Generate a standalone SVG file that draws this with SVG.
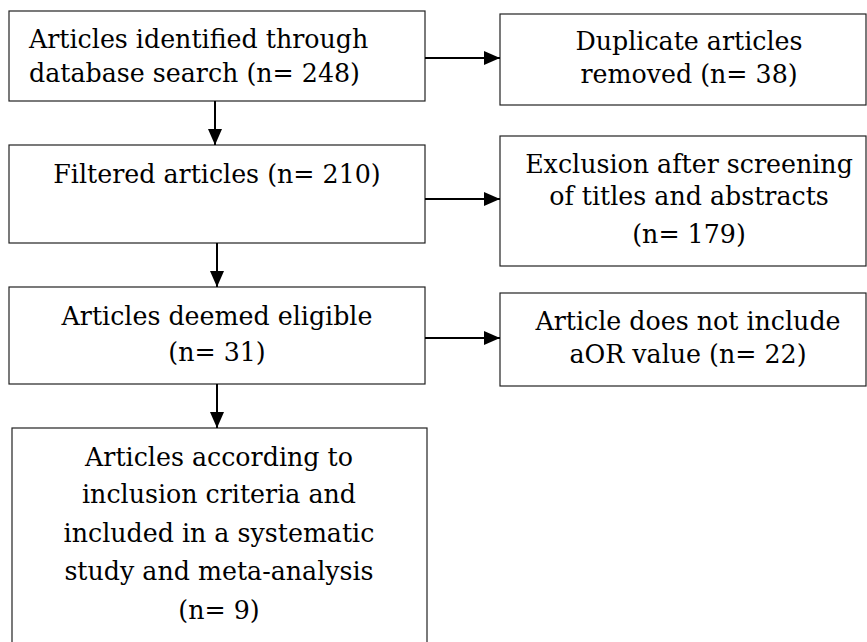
<svg xmlns="http://www.w3.org/2000/svg" width="867" height="642" viewBox="0 0 867 642">
<defs>
<style>
.box{fill:#fff;stroke:#222;stroke-width:1.2}
.t{font-family:"DejaVu Serif","Liberation Serif",serif;font-size:25.3px;fill:#000}
.c{text-anchor:middle}
.ln{stroke:#000;stroke-width:2;fill:none}
</style>
<marker id="a" viewBox="0 0 16 14" refX="16" refY="7" markerWidth="16" markerHeight="14" markerUnits="userSpaceOnUse" orient="auto">
<path d="M0,0 L16,7 L0,14 z" fill="#000"/>
</marker>
</defs>
<rect width="867" height="642" fill="#fff"/>
<g id="n1"><rect class="box" x="9" y="11" width="416" height="90"/>
<text class="t" x="29" y="48">Articles identified through</text>
<text class="t" x="29" y="82">database search (n= 248)</text></g>
<g id="n2"><rect class="box" x="9" y="145" width="416" height="98"/>
<text class="t c" x="217" y="183">Filtered articles (n= 210)</text></g>
<g id="n3"><rect class="box" x="9" y="287" width="416" height="97"/>
<text class="t c" x="217" y="325">Articles deemed eligible</text>
<text class="t c" x="217" y="361">(n= 31)</text></g>
<g id="n4"><rect class="box" x="12" y="428" width="415" height="230"/>
<text class="t c" x="219" y="466">Articles according to</text>
<text class="t c" x="219" y="503">inclusion criteria and</text>
<text class="t c" x="219" y="542">included in a systematic</text>
<text class="t c" x="219" y="580">study and meta-analysis</text>
<text class="t c" x="219" y="619">(n= 9)</text></g>
<g id="r1"><rect class="box" x="500" y="14" width="366" height="91"/>
<text class="t c" x="689" y="50">Duplicate articles</text>
<text class="t c" x="689" y="83">removed (n= 38)</text></g>
<g id="r2"><rect class="box" x="500" y="136" width="366" height="130"/>
<text class="t c" x="689" y="173">Exclusion after screening</text>
<text class="t c" x="689" y="205">of titles and abstracts</text>
<text class="t c" x="689" y="243">(n= 179)</text></g>
<g id="r3"><rect class="box" x="500" y="293" width="366" height="93"/>
<text class="t c" x="688" y="330">Article does not include</text>
<text class="t c" x="688" y="363">aOR value (n= 22)</text></g>
<g id="connectors">
<line class="ln" x1="215" y1="101" x2="215" y2="145" marker-end="url(#a)"/>
<line class="ln" x1="217" y1="243" x2="217" y2="287" marker-end="url(#a)"/>
<line class="ln" x1="217" y1="384" x2="217" y2="428" marker-end="url(#a)"/>
<line class="ln" x1="425" y1="58" x2="500" y2="58" marker-end="url(#a)"/>
<line class="ln" x1="425" y1="199" x2="500" y2="199" marker-end="url(#a)"/>
<line class="ln" x1="425" y1="338" x2="500" y2="338" marker-end="url(#a)"/>
</g>
</svg>
